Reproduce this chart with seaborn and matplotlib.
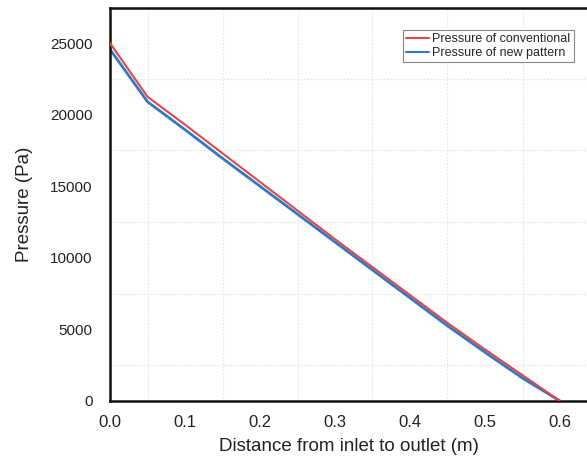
import numpy as np
import pandas as pd
import matplotlib
matplotlib.use("Agg")
import matplotlib.pyplot as plt
import seaborn as sns
from matplotlib.ticker import FixedLocator

distance = [0.0, 0.05, 0.1, 0.15, 0.2, 0.25, 0.3, 0.35, 0.4, 0.45, 0.5, 0.55, 0.6]
p_conventional = [25000, 21250, 19300, 17300, 15300, 13300, 11300, 9350, 7400, 5450, 3600, 1800, 0]
p_new = [24560, 20900, 18950, 16950, 15000, 13050, 11100, 9150, 7200, 5250, 3400, 1600, 0]
series_names = ["Pressure of conventional", "Pressure of new pattern"]
x_ticks = [0.0, 0.1, 0.2, 0.3, 0.4, 0.5, 0.6]
y_ticks = [0, 5000, 10000, 15000, 20000, 25000]

sns.set_style("white")
plt.rcParams['font.family'] = ['Liberation Sans', 'DejaVu Sans']

df = pd.DataFrame({
    "x": distance * 2,
    "p": p_conventional + p_new,
    "series": [series_names[0]] * len(distance) + [series_names[1]] * len(distance),
})

fig = plt.figure(figsize=(5.87, 4.65), dpi=100)
ax = fig.add_axes([110/587, 1 - 401/465, 1 - 110/587, (401 - 8)/465])

palette = {series_names[0]: "#E0474C", series_names[1]: "#3478C0"}
sns.lineplot(data=df, x="x", y="p", hue="series", palette=palette, ax=ax,
             sort=False, estimator=None)
lines = ax.get_lines()
lines[0].set_linewidth(1.5)
lines[1].set_linewidth(2.0)
lines[1].set_zorder(2.5)
lines[0].set_zorder(3)

ax.set_xlim(0, 0.636)
ax.set_ylim(0, 27450)
ax.xaxis.set_major_locator(FixedLocator(x_ticks))
ax.yaxis.set_major_locator(FixedLocator(y_ticks))
ax.set_xticklabels([f"{v:.1f}" for v in x_ticks])
ax.set_yticklabels([str(v) for v in y_ticks])
ax.xaxis.set_minor_locator(FixedLocator([0.05, 0.15, 0.25, 0.35, 0.45, 0.55]))
ax.yaxis.set_minor_locator(FixedLocator([2500, 7500, 12500, 17500, 22500]))
ax.grid(False, which="major")
ax.grid(True, which="minor", color="#e4e4e4", linestyle=(0, (1.5, 1.5)), linewidth=0.8)
ax.tick_params(which="both", length=0)
ax.tick_params(axis="x", labelsize=12, pad=10, colors="#222222")
ax.tick_params(axis="y", labelsize=11, pad=12.5, colors="#222222")

for side in ["left", "bottom", "top"]:
    ax.spines[side].set_visible(True)
    ax.spines[side].set_color("#111111")
    ax.spines[side].set_linewidth(1.8)
ax.spines["right"].set_visible(False)

ax.set_xlabel("Distance from inlet to outlet (m)", fontsize=13.5, color="#222222", labelpad=6)
ax.set_ylabel("Pressure (Pa)", fontsize=13.5, color="#222222", labelpad=12)

leg = ax.legend(loc="upper right", fontsize=9, frameon=True, fancybox=False, framealpha=1,
                edgecolor="#888888", borderpad=0.25, labelspacing=0.15,
                handlelength=1.8, handletextpad=0.3, title=None)
leg.set_bbox_to_anchor((580/587, 1 - 24/465), transform=fig.transFigure)
leg.get_frame().set_linewidth(0.8)

fig.savefig("out.png", dpi=100)
